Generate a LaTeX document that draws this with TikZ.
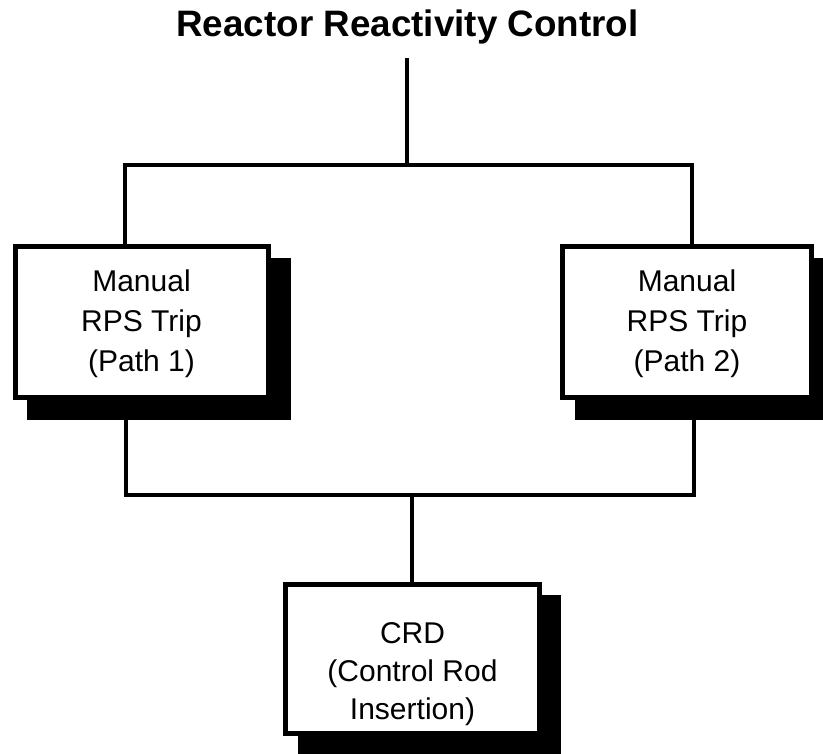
\documentclass[tikz,border=0pt]{standalone}
\usepackage{fontspec}
\setmainfont{Liberation Sans}
\begin{document}
\begin{tikzpicture}[x=1pt,y=-1pt,
  conn/.style={line width=4pt},
  boxnode/.style={draw, line width=5pt, fill=white, inner sep=0pt},
  boxtext/.style={align=center, font=\fontsize{30}{40}\selectfont, inner sep=0pt},
  shadowfill/.style={fill=black}]
\fill[white] (0,0) rectangle (823,754);
\useasboundingbox (0,0) rectangle (823,754);
% title
\node[anchor=base, font=\fontsize{36.8}{40}\selectfont\bfseries] (title) at (407.5,37) {Reactor Reactivity Control};
% shadows
\fill[shadowfill] (27,258) rectangle (291,420);
\fill[shadowfill] (575,258) rectangle (823,420);
\fill[shadowfill] (298,595) rectangle (561,754);
% boxes
\node[boxnode, minimum width=253pt, minimum height=151pt] (lb) at (141.5,322) {};
\node[boxnode, minimum width=249pt, minimum height=151pt] (rb) at (687,322) {};
\node[boxnode, minimum width=254pt, minimum height=149pt] (cb) at (412.5,659) {};
\node[boxtext] (lbt) at ([yshift=-2pt]lb.center) {Manual\\RPS Trip\\(Path 1)};
\node[boxtext] (rbt) at ([yshift=-2pt]rb.center) {Manual\\RPS Trip\\(Path 2)};
\node[boxtext, font=\fontsize{30}{38}\selectfont] (cbt) at ([yshift=-15pt]cb.center) {CRD\\(Control Rod\\Insertion)};
% junction coordinates
\coordinate (tt) at (407,58);
\coordinate (t1) at (407,165);
\coordinate (l1) at (125,165);
\coordinate (r1) at (692,165);
\coordinate (l2) at (126,495);
\coordinate (r2) at (694,495);
\coordinate (c2) at (412,495);
% connectors
\draw[conn] (tt) -- (t1);
\draw[conn, line cap=rect] (l1) -- (r1);
\draw[conn] (l1) -- (l1 |- lb.north);
\draw[conn] (r1) -- (r1 |- rb.north);
\draw[conn] (l2 |- 0,420) -- (l2);
\draw[conn] (r2 |- 0,420) -- (r2);
\draw[conn, line cap=rect] (l2) -- (r2);
\draw[conn] (c2) -- (c2 |- cb.north);
\end{tikzpicture}
\end{document}
